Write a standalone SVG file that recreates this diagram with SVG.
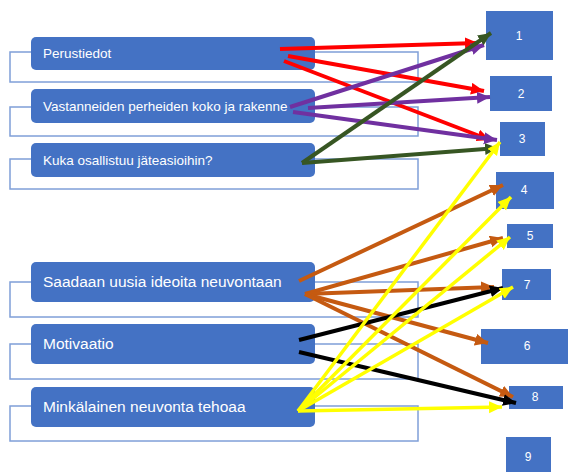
<svg xmlns="http://www.w3.org/2000/svg" width="568" height="472" viewBox="0 0 568 472">
<style>
.outline{fill:none;stroke:#7F9FD8;stroke-width:1.5}
.box{fill:#4472C4}
.lbl{fill:#fff;font-family:"Liberation Sans",Arial,sans-serif}
.s{font-size:13.5px}
.b{font-size:15.5px}
.num{fill:#fff;font-family:"Liberation Sans",Arial,sans-serif;font-size:12px;text-anchor:middle}
.c{fill:none;stroke-width:4}
.red{stroke:#FF0000}
.pur{stroke:#7030A0}
.grn{stroke:#375623}
.org{stroke:#C55A11}
.blk{stroke:#000}
.yel{stroke:#FFFF00;stroke-width:3.5}
</style>
<defs>
<marker id="mr" markerUnits="userSpaceOnUse" markerWidth="14" markerHeight="14" refX="13" refY="6" orient="auto"><path d="M0,0 L13,6 L0,12 z" fill="#FF0000"/></marker>
<marker id="mp" markerUnits="userSpaceOnUse" markerWidth="14" markerHeight="14" refX="13" refY="6" orient="auto"><path d="M0,0 L13,6 L0,12 z" fill="#7030A0"/></marker>
<marker id="mg" markerUnits="userSpaceOnUse" markerWidth="14" markerHeight="14" refX="13" refY="6" orient="auto"><path d="M0,0 L13,6 L0,12 z" fill="#375623"/></marker>
<marker id="mo" markerUnits="userSpaceOnUse" markerWidth="14" markerHeight="14" refX="13" refY="6" orient="auto"><path d="M0,0 L13,6 L0,12 z" fill="#C55A11"/></marker>
<marker id="mk" markerUnits="userSpaceOnUse" markerWidth="14" markerHeight="14" refX="13" refY="6" orient="auto"><path d="M0,0 L13,6 L0,12 z" fill="#000"/></marker>
<marker id="my" markerUnits="userSpaceOnUse" markerWidth="14" markerHeight="14" refX="13" refY="6" orient="auto"><path d="M0,0 L13,6 L0,12 z" fill="#FFFF00"/></marker>
</defs>
<rect width="568" height="472" fill="#fff"/>

<g id="n-perustiedot">
<rect class="outline" x="10" y="52" width="408" height="30"/>
<rect class="box" x="31" y="37" width="284" height="33" rx="5"/>
<text class="lbl s" x="43" y="58">Perustiedot</text>
</g>
<g id="n-vastanneiden">
<rect class="outline" x="10" y="107" width="408" height="29"/>
<rect class="box" x="31" y="89" width="284" height="34" rx="5"/>
<text class="lbl s" x="43" y="111">Vastanneiden perheiden koko ja rakenne</text>
</g>
<g id="n-kuka">
<rect class="outline" x="10" y="159" width="408" height="30"/>
<rect class="box" x="31" y="143" width="284" height="34" rx="5"/>
<text class="lbl s" x="43" y="165">Kuka osallistuu jäteasioihin?</text>
</g>
<g id="n-saadaan">
<rect class="outline" x="10" y="282" width="408" height="35"/>
<rect class="box" x="31" y="262" width="284" height="40" rx="5"/>
<text class="lbl b" x="43" y="287">Saadaan uusia ideoita neuvontaan</text>
</g>
<g id="n-motivaatio">
<rect class="outline" x="10" y="344" width="408" height="35"/>
<rect class="box" x="31" y="324" width="284" height="40" rx="5"/>
<text class="lbl b" x="43" y="349">Motivaatio</text>
</g>
<g id="n-minkalainen">
<rect class="outline" x="10" y="406" width="408" height="35"/>
<rect class="box" x="31" y="387" width="284" height="40" rx="5"/>
<text class="lbl b" x="43" y="412">Minkälainen neuvonta tehoaa</text>
</g>

<g id="n1"><rect class="box" x="486" y="11" width="67" height="49"/><text class="num" x="519" y="40">1</text></g>
<g id="n2"><rect class="box" x="490" y="76" width="62" height="35"/><text class="num" x="521" y="98">2</text></g>
<g id="n3"><rect class="box" x="500" y="122" width="45" height="34"/><text class="num" x="522" y="143">3</text></g>
<g id="n4"><rect class="box" x="496" y="172" width="58" height="37"/><text class="num" x="524" y="194">4</text></g>
<g id="n5"><rect class="box" x="507" y="224" width="46" height="24"/><text class="num" x="530" y="240">5</text></g>
<g id="n7"><rect class="box" x="502" y="269" width="49" height="31"/><text class="num" x="527" y="289">7</text></g>
<g id="n6"><rect class="box" x="481" y="329" width="87" height="35"/><text class="num" x="527" y="350">6</text></g>
<g id="n8"><rect class="box" x="509" y="386" width="54" height="23"/><text class="num" x="535" y="401">8</text></g>
<g id="n9"><rect class="box" x="506" y="437" width="45" height="35"/><text class="num" x="528" y="461">9</text></g>

<g id="connectors">
<line class="c red" x1="280" y1="49" x2="478" y2="43" marker-end="url(#mr)"/>
<line class="c red" x1="288" y1="56" x2="484" y2="91" marker-end="url(#mr)"/>
<line class="c red" x1="284" y1="61" x2="490" y2="140" marker-end="url(#mr)"/>
<line class="c pur" x1="290" y1="107" x2="484" y2="45" marker-end="url(#mp)"/>
<line class="c pur" x1="308" y1="108" x2="490" y2="97" marker-end="url(#mp)"/>
<line class="c pur" x1="293" y1="112" x2="497" y2="140" marker-end="url(#mp)"/>
<line class="c grn" x1="302" y1="163" x2="491" y2="33" marker-end="url(#mg)"/>
<line class="c grn" x1="302" y1="163" x2="498" y2="148" marker-end="url(#mg)"/>
<line class="c org" x1="299" y1="281" x2="503" y2="185" marker-end="url(#mo)"/>
<line class="c org" x1="305" y1="294" x2="503" y2="238" marker-end="url(#mo)"/>
<line class="c org" x1="305" y1="294" x2="494" y2="287" marker-end="url(#mo)"/>
<line class="c org" x1="305" y1="294" x2="488" y2="343" marker-end="url(#mo)"/>
<line class="c org" x1="305" y1="294" x2="513" y2="397" marker-end="url(#mo)"/>
<line class="c blk" x1="299" y1="340" x2="503" y2="288" marker-end="url(#mk)"/>
<line class="c blk" x1="299" y1="352" x2="516" y2="403" marker-end="url(#mk)"/>
<line class="c yel" x1="298" y1="411" x2="500" y2="142" marker-end="url(#my)"/>
<line class="c yel" x1="298" y1="411" x2="511" y2="197" marker-end="url(#my)"/>
<line class="c yel" x1="298" y1="411" x2="510" y2="237" marker-end="url(#my)"/>
<line class="c yel" x1="298" y1="411" x2="513" y2="287" marker-end="url(#my)"/>
<line class="c yel" x1="298" y1="411" x2="502" y2="407" marker-end="url(#my)"/>
</g>
</svg>
